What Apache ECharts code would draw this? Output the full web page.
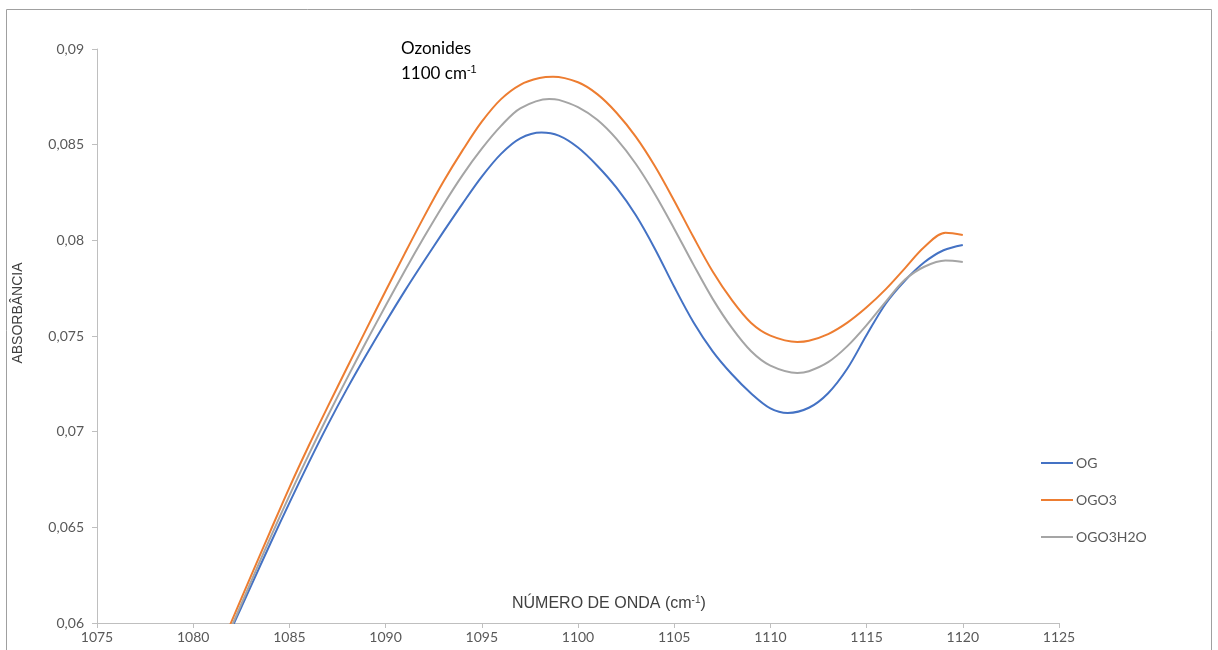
<!DOCTYPE html>
<html>
<head>
<meta charset="utf-8">
<script src="https://cdn.jsdelivr.net/npm/echarts@6/dist/echarts.min.js"></script>
<style>
  html, body { margin: 0; padding: 0; background: #fff; }
  #chart-container { width: 1218px; height: 650px; }
</style>
</head>
<body>
<div id="chart-container"></div>
<script>
// wavenumbers (cm-1) read for each curve (extra point where each curve turns)
const waveOG = [1081, 1082, 1083, 1084, 1085, 1086, 1087, 1088, 1089, 1090,
  1091, 1092, 1093, 1094, 1095, 1096, 1097, 1098.1, 1099, 1100,
  1101, 1102, 1103, 1104, 1105, 1106, 1107, 1108, 1109, 1110,
  1110.9, 1112, 1113, 1114, 1115, 1116, 1117, 1118, 1119, 1120];
const og = [0.05750, 0.05972, 0.06193, 0.06413, 0.06628, 0.06837, 0.07037, 0.07225, 0.07402, 0.07572,
  0.07736, 0.07892, 0.08044, 0.08192, 0.08333, 0.08452, 0.08533, 0.08563, 0.08547, 0.08485,
  0.08390, 0.08275, 0.08132, 0.07955, 0.07757, 0.07572, 0.07420, 0.07300, 0.07200, 0.07122,
  0.07098, 0.07125, 0.07201, 0.07330, 0.07505, 0.07670, 0.07790, 0.07885, 0.07948, 0.07976];

const waveOGO3 = [1081, 1082, 1083, 1084, 1085, 1086, 1087, 1088, 1089, 1090,
  1091, 1092, 1093, 1094, 1095, 1096, 1097, 1098, 1098.7, 1100,
  1101, 1102, 1103, 1104, 1105, 1106, 1107, 1108, 1109, 1110,
  1111.4, 1112, 1113, 1114, 1115, 1116, 1117, 1118, 1119.1, 1120];
const ogo3 = [0.05770, 0.06010, 0.06245, 0.06478, 0.06708, 0.06925, 0.07132, 0.07335, 0.07536, 0.07735,
  0.07932, 0.08124, 0.08306, 0.08470, 0.08620, 0.08738, 0.08813, 0.08848, 0.08855, 0.08826,
  0.08764, 0.08667, 0.08542, 0.08387, 0.08207, 0.08017, 0.07837, 0.07687, 0.07568, 0.07502,
  0.07469, 0.07475, 0.07510, 0.07570, 0.07650, 0.07745, 0.07855, 0.07965, 0.08040, 0.08028];

const waveOGO3H2O = [1081, 1082, 1083, 1084, 1085, 1086, 1087, 1088, 1089, 1090,
  1091, 1092, 1093, 1094, 1095, 1096, 1097, 1098.5, 1099, 1100,
  1101, 1102, 1103, 1104, 1105, 1106, 1107, 1108, 1109, 1110,
  1111.4, 1112, 1113, 1114, 1115, 1116, 1117, 1118, 1119.1, 1120];
const ogo3h2o = [0.05750, 0.05983, 0.06215, 0.06444, 0.06666, 0.06879, 0.07083, 0.07280, 0.07471, 0.07658,
  0.07841, 0.08017, 0.08185, 0.08341, 0.08479, 0.08598, 0.08690, 0.08739, 0.08734, 0.08696,
  0.08630, 0.08530, 0.08400, 0.08241, 0.08061, 0.07873, 0.07694, 0.07542, 0.07420, 0.07345,
  0.07307, 0.07316, 0.07363, 0.07447, 0.07557, 0.07680, 0.07795, 0.07862, 0.07894, 0.07887];

const seriesNames = ['OG', 'OGO3', 'OGO3H2O'];
const seriesColors = ['#4472C4', '#ED7D31', '#A5A5A5'];

const pairs = (xs, ys) => xs.map((x, i) => [x, ys[i]]);
const font = 'Lato, "Open Sans", sans-serif';

const myChart = echarts.init(document.getElementById('chart-container'));
const option = {
  animation: false,
  grid: { left: 97, right: 159, top: 49, bottom: 27 },
  xAxis: {
    type: 'value',
    min: 1075,
    max: 1125,
    interval: 5,
    axisLine: { lineStyle: { color: '#bfbfbf', width: 1 } },
    axisTick: { show: true, length: 5, lineStyle: { color: '#bfbfbf' } },
    axisLabel: {
      color: '#595959', fontSize: 14, fontFamily: font, margin: 7,
      formatter: v => String(v)
    },
    splitLine: { show: false }
  },
  yAxis: {
    type: 'value',
    min: 0.06,
    max: 0.09,
    interval: 0.005,
    axisLine: { show: true, lineStyle: { color: '#bfbfbf', width: 1 } },
    axisTick: { show: true, length: 5, lineStyle: { color: '#bfbfbf' } },
    axisLabel: {
      color: '#595959', fontSize: 14, fontFamily: font, margin: 13,
      formatter: v => String(+v.toFixed(3)).replace('.', ',')
    },
    splitLine: { show: false }
  },
  legend: {
    orient: 'vertical',
    left: 1041,
    top: 456,
    padding: 0,
    icon: 'rect',
    itemWidth: 32,
    itemHeight: 2,
    itemGap: 23,
    textStyle: { color: '#595959', fontSize: 14, fontFamily: font, padding: [0, 0, 0, -2] },
    data: seriesNames
  },
  graphic: [
    {
      type: 'rect',
      shape: { x: 6.5, y: 9.5, width: 1205, height: 700 },
      style: { fill: 'none', stroke: '#a0a0a0', lineWidth: 1 },
      silent: true
    },
    {
      type: 'text',
      left: 401,
      top: 36,
      style: {
        text: 'Ozonides\n1100 cm{sup|-1}',
        fill: '#000',
        font: '17px ' + font,
        lineHeight: 25,
        rich: { sup: { fontSize: 11, padding: [0, 0, 8, 0], fill: '#000' } }
      }
    },
    {
      type: 'text',
      left: 512,
      top: 595,
      style: {
        text: 'NÚMERO DE ONDA (cm{sup|-1})',
        fill: '#404040',
        font: '16px "Liberation Sans", Arial, sans-serif',
        rich: { sup: { fontSize: 10, padding: [0, 0, 7, 0], fill: '#404040' } }
      }
    },
    {
      type: 'text',
      x: 18,
      y: 313,
      rotation: Math.PI / 2,
      style: {
        text: 'ABSORBÂNCIA',
        fill: '#404040',
        font: '14px "Liberation Sans", Arial, sans-serif',
        align: 'center',
        verticalAlign: 'middle'
      }
    }
  ],
  series: [[waveOG, og], [waveOGO3, ogo3], [waveOGO3H2O, ogo3h2o]].map(([xs, ys], i) => ({
    name: seriesNames[i],
    type: 'line',
    data: pairs(xs, ys),
    smooth: 0.33,
    symbol: 'none',
    clip: true,
    lineStyle: { color: seriesColors[i], width: 2 },
    itemStyle: { color: seriesColors[i] }
  }))
};
myChart.setOption(option);
</script>
</body>
</html>
